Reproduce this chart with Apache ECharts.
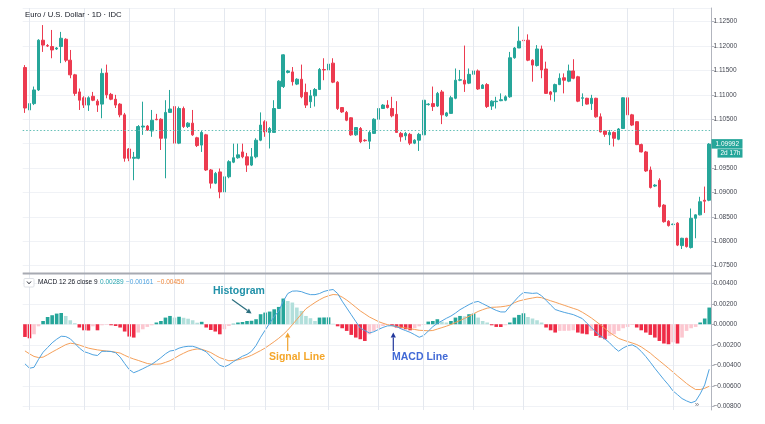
<!DOCTYPE html>
<html>
<head>
<meta charset="utf-8">
<script src="https://cdn.jsdelivr.net/npm/echarts@6/dist/echarts.min.js"></script>
<style>
  html, body { margin: 0; padding: 0; background: #ffffff; }
  #chart { width: 765px; height: 424px; }
</style>
</head>
<body>
<div id="chart"></div>
<script>
// ---- DATA ----
const opens = [1.1156,1.1069,1.1082,1.1110,1.1212,1.1201,1.1199,1.1194,1.1199,1.1214,
1.1171,1.1141,1.1106,1.1094,1.1079,1.1097,1.1087,1.1081,1.1145,1.1101,
1.1091,1.1081,1.1059,1.0989,1.0970,1.0970,1.1034,1.1036,1.1026,1.1050,
1.1050,1.1011,1.1064,1.1076,1.1001,1.1072,1.1035,1.1042,1.1012,1.0997,
1.1018,1.0946,1.0919,1.0942,1.0901,1.0932,1.0962,1.0971,1.0983,1.0973,
1.0956,1.0973,1.1007,1.1045,1.1023,1.1023,1.1072,1.1117,1.1146,1.1147,
1.1122,1.1132,1.1105,1.1086,1.1098,1.1111,1.1152,1.1151,1.1165,1.1126,
1.1074,1.1064,1.1053,1.1018,1.1031,1.1007,1.1005,1.1021,1.1050,1.1072,
1.1079,1.1072,1.1060,1.1021,1.1016,1.1019,1.1001,1.1007,1.1018,1.1080,
1.1082,1.1077,1.1106,1.1057,1.1062,1.1093,1.1130,1.1130,1.1124,1.1142,
1.1149,1.1113,1.1121,1.1077,1.1086,1.1088,1.1089,1.1096,1.1176,1.1196,
1.1212,1.1212,1.1171,1.1160,1.1194,1.1153,1.1106,1.1106,1.1121,1.1135,
1.1128,1.1149,1.1137,1.1093,1.1093,1.1082,1.1093,1.1055,1.1026,1.1018,
1.1023,1.1009,1.1031,1.1094,1.1059,1.1045,1.0998,1.0983,1.0946,1.0913,
1.0925,1.0874,1.0841,1.0834,1.0837,1.0791,1.0806,1.0787,1.0847,1.0854,
1.0884,1.0884];
const closes = [1.1073,1.1082,1.1110,1.1212,1.1202,1.1200,1.1192,1.1196,1.1216,1.1171,
1.1141,1.1103,1.1089,1.1079,1.1094,1.1089,1.1079,1.1144,1.1100,1.1091,
1.1079,1.1059,1.0970,1.0970,1.0972,1.1035,1.1036,1.1028,1.1048,1.1049,
1.1011,1.1064,1.1071,1.1001,1.1072,1.1035,1.1042,1.1018,1.0996,1.1023,
1.0946,1.0919,1.0939,1.0901,1.0932,1.0963,1.0971,1.0977,1.0973,1.0956,
1.0973,1.1007,1.1038,1.1024,1.1031,1.1072,1.1128,1.1182,1.1149,1.1127,
1.1132,1.1096,1.1079,1.1098,1.1111,1.1152,1.1151,1.1163,1.1126,1.1072,
1.1065,1.1048,1.1018,1.1033,1.1004,1.1006,1.1023,1.1050,1.1072,1.1079,
1.1074,1.1057,1.1023,1.1014,1.1021,1.1001,1.1007,1.1019,1.1089,1.1081,
1.1076,1.1103,1.1059,1.1063,1.1094,1.1130,1.1131,1.1122,1.1142,1.1149,
1.1112,1.1120,1.1076,1.1087,1.1087,1.1090,1.1096,1.1176,1.1196,1.1210,
1.1211,1.1171,1.1161,1.1194,1.1151,1.1103,1.1101,1.1121,1.1134,1.1130,
1.1149,1.1134,1.1087,1.1094,1.1081,1.1093,1.1055,1.1024,1.1019,1.1023,
1.1011,1.1030,1.1094,1.1059,1.1038,1.0998,1.0983,1.0944,1.0910,1.0915,
1.0871,1.0840,1.0832,1.0835,1.0792,1.0806,1.0789,1.0847,1.0854,1.0881,
1.0882,1.0999];
const highs = [1.1161,1.1085,1.1117,1.1214,1.1243,1.1204,1.1233,1.1198,1.1229,1.1216,
1.1192,1.1143,1.1113,1.1097,1.1097,1.1106,1.1091,1.1154,1.1162,1.1104,
1.1100,1.1083,1.1063,1.0991,1.0983,1.1038,1.1086,1.1038,1.1069,1.1061,
1.1052,1.1089,1.1110,1.1085,1.1076,1.1076,1.1044,1.1069,1.1014,1.1026,
1.1020,1.0948,1.0942,1.0949,1.0936,1.0966,1.1000,1.1000,1.1000,1.0981,
1.0991,1.1011,1.1064,1.1048,1.1034,1.1089,1.1130,1.1183,1.1151,1.1157,
1.1134,1.1162,1.1123,1.1110,1.1114,1.1155,1.1175,1.1167,1.1175,1.1128,
1.1075,1.1067,1.1054,1.1034,1.1034,1.1009,1.1026,1.1052,1.1091,1.1081,
1.1089,1.1096,1.1087,1.1024,1.1024,1.1022,1.1009,1.1022,1.1091,1.1083,
1.1117,1.1106,1.1110,1.1065,1.1098,1.1154,1.1151,1.1201,1.1154,1.1175,
1.1152,1.1122,1.1124,1.1089,1.1096,1.1103,1.1099,1.1188,1.1198,1.1240,
1.1213,1.1224,1.1173,1.1202,1.1201,1.1168,1.1108,1.1123,1.1144,1.1144,
1.1162,1.1173,1.1139,1.1103,1.1094,1.1100,1.1094,1.1062,1.1027,1.1028,
1.1025,1.1032,1.1095,1.1095,1.1061,1.1046,1.1000,1.0985,1.0953,1.0917,
1.0929,1.0876,1.0843,1.0836,1.0839,1.0807,1.0807,1.0867,1.0855,1.0891,
1.0912,1.1001];
const lows = [1.1063,1.1028,1.1079,1.1108,1.1188,1.1198,1.1175,1.1192,1.1165,1.1167,
1.1134,1.1098,1.1069,1.1073,1.1067,1.1087,1.1065,1.1052,1.1093,1.1089,
1.1073,1.1054,1.0963,1.0964,1.0925,1.0968,1.1018,1.1026,1.1014,1.1048,
1.0987,1.0929,1.1063,1.0994,1.0999,1.1032,1.1032,1.1016,1.0993,1.0983,
1.0944,1.0908,1.0917,1.0888,1.0884,1.0929,1.0960,1.0969,1.0970,1.0942,
1.0954,1.0970,1.1005,1.1014,1.0990,1.1022,1.1071,1.1114,1.1144,1.1119,
1.1120,1.1093,1.1073,1.1073,1.1076,1.1110,1.1130,1.1149,1.1124,1.1069,
1.1063,1.1046,1.1016,1.1016,1.1001,1.1004,1.0989,1.1020,1.1048,1.1071,
1.1072,1.1054,1.1022,1.1004,1.1007,1.0997,1.0999,1.0985,1.1016,1.1078,
1.1067,1.1075,1.1040,1.1055,1.1061,1.1091,1.1128,1.1106,1.1122,1.1141,
1.1110,1.1112,1.1073,1.1069,1.1072,1.1087,1.1087,1.1094,1.1174,1.1196,
1.1210,1.1169,1.1127,1.1158,1.1134,1.1102,1.1089,1.1086,1.1120,1.1103,
1.1126,1.1132,1.1085,1.1077,1.1080,1.1069,1.1053,1.1023,1.1014,1.0997,
1.0994,1.1007,1.1030,1.1057,1.1036,1.0997,1.0982,1.0942,1.0908,1.0911,
1.0869,1.0838,1.0830,1.0833,1.0790,1.0784,1.0787,1.0785,1.0806,1.0853,
1.0858,1.0882];

const histogram = [-0.00124,-0.00137,-0.00098,-0.00020,0.00032,0.00071,0.00088,0.00104,0.00110,0.00081,
0.00039,0.00010,-0.00032,-0.00059,-0.00061,-0.00020,-0.00059,-0.00010,-0.00005,-0.00010,
-0.00017,-0.00032,-0.00071,-0.00120,-0.00130,-0.00081,-0.00049,-0.00026,-0.00010,0.00017,
0.00032,0.00065,0.00081,0.00065,0.00073,0.00063,0.00054,0.00039,0.00015,0.00024,
-0.00032,-0.00056,-0.00071,-0.00098,-0.00049,-0.00017,0.00005,0.00017,0.00022,0.00032,
0.00034,0.00049,0.00098,0.00114,0.00124,0.00146,0.00169,0.00251,0.00227,0.00212,
0.00163,0.00130,0.00081,0.00059,0.00032,0.00065,0.00066,0.00067,0.00005,-0.00020,
-0.00039,-0.00065,-0.00104,-0.00130,-0.00146,-0.00163,-0.00098,-0.00065,-0.00039,-0.00017,
-0.00005,-0.00015,-0.00032,-0.00039,-0.00049,-0.00059,-0.00039,-0.00020,-0.00005,0.00026,
0.00032,0.00049,0.00026,0.00017,0.00032,0.00065,0.00081,0.00078,0.00098,0.00104,
0.00065,0.00032,0.00017,-0.00010,-0.00026,-0.00027,-0.00010,0.00017,0.00065,0.00091,
0.00107,0.00071,0.00056,0.00039,0.00017,-0.00032,-0.00059,-0.00081,-0.00065,-0.00064,
-0.00063,-0.00059,-0.00081,-0.00091,-0.00098,-0.00065,-0.00114,-0.00130,-0.00146,-0.00114,
-0.00098,-0.00065,-0.00039,-0.00026,-0.00007,-0.00032,-0.00059,-0.00081,-0.00104,-0.00130,
-0.00163,-0.00188,-0.00195,-0.00176,-0.00188,-0.00130,-0.00065,-0.00039,-0.00026,0.00017,
0.00056,0.00163];

const macdLine = [-0.00386,-0.00429,-0.00420,-0.00342,-0.00273,-0.00227,-0.00181,-0.00146,-0.00117,-0.00120,
-0.00142,-0.00187,-0.00232,-0.00267,-0.00281,-0.00298,-0.00305,-0.00264,-0.00264,-0.00266,
-0.00278,-0.00320,-0.00383,-0.00442,-0.00473,-0.00455,-0.00434,-0.00412,-0.00390,-0.00359,
-0.00326,-0.00289,-0.00261,-0.00254,-0.00233,-0.00221,-0.00215,-0.00215,-0.00228,-0.00248,
-0.00269,-0.00316,-0.00359,-0.00400,-0.00416,-0.00396,-0.00365,-0.00338,-0.00312,-0.00294,
-0.00264,-0.00207,-0.00127,-0.00058,0.00010,0.00075,0.00129,0.00225,0.00300,0.00323,
0.00325,0.00318,0.00301,0.00289,0.00289,0.00300,0.00320,0.00332,0.00339,0.00300,
0.00225,0.00159,0.00093,0.00027,-0.00038,-0.00062,-0.00085,-0.00073,-0.00051,-0.00031,
-0.00016,-0.00014,-0.00022,-0.00045,-0.00062,-0.00079,-0.00102,-0.00127,-0.00109,-0.00067,
-0.00024,0.00009,0.00033,0.00058,0.00080,0.00109,0.00142,0.00167,0.00192,0.00213,
0.00223,0.00201,0.00179,0.00156,0.00135,0.00120,0.00120,0.00174,0.00224,0.00273,
0.00310,0.00306,0.00301,0.00305,0.00278,0.00233,0.00188,0.00144,0.00129,0.00116,
0.00105,0.00094,0.00075,0.00055,0.00010,-0.00034,-0.00077,-0.00113,-0.00144,-0.00181,
-0.00227,-0.00263,-0.00232,-0.00210,-0.00201,-0.00224,-0.00265,-0.00315,-0.00371,-0.00430,
-0.00485,-0.00540,-0.00591,-0.00650,-0.00687,-0.00725,-0.00748,-0.00766,-0.00750,-0.00680,
-0.00592,-0.00439];

const signalLine = [-0.00260,-0.00289,-0.00314,-0.00325,-0.00321,-0.00297,-0.00271,-0.00247,-0.00223,-0.00199,
-0.00185,-0.00191,-0.00203,-0.00218,-0.00233,-0.00242,-0.00250,-0.00256,-0.00261,-0.00265,
-0.00273,-0.00281,-0.00303,-0.00323,-0.00339,-0.00353,-0.00368,-0.00383,-0.00390,-0.00390,
-0.00387,-0.00372,-0.00356,-0.00332,-0.00305,-0.00283,-0.00262,-0.00249,-0.00241,-0.00244,
-0.00259,-0.00276,-0.00302,-0.00326,-0.00342,-0.00356,-0.00353,-0.00347,-0.00335,-0.00320,
-0.00303,-0.00280,-0.00257,-0.00232,-0.00201,-0.00170,-0.00137,-0.00099,-0.00056,-0.00005,
0.00047,0.00099,0.00151,0.00182,0.00212,0.00239,0.00262,0.00278,0.00290,0.00287,
0.00265,0.00236,0.00202,0.00166,0.00130,0.00101,0.00071,0.00049,0.00026,0.00010,
-0.00004,-0.00015,-0.00021,-0.00029,-0.00036,-0.00044,-0.00051,-0.00059,-0.00061,-0.00064,
-0.00061,-0.00047,-0.00033,-0.00019,-0.00002,0.00017,0.00036,0.00057,0.00078,0.00102,
0.00125,0.00142,0.00157,0.00165,0.00167,0.00170,0.00176,0.00185,0.00210,0.00227,
0.00238,0.00248,0.00256,0.00264,0.00259,0.00244,0.00229,0.00215,0.00200,0.00185,
0.00170,0.00155,0.00141,0.00117,0.00090,0.00061,0.00028,-0.00006,-0.00042,-0.00080,
-0.00109,-0.00138,-0.00154,-0.00169,-0.00183,-0.00198,-0.00221,-0.00251,-0.00282,-0.00320,
-0.00356,-0.00392,-0.00429,-0.00466,-0.00505,-0.00541,-0.00578,-0.00610,-0.00637,-0.00637,
-0.00625,-0.00605];

// session numbers (1-based) that carry a vertical time grid line
const timeGridSessions = [2,14,24,34,45,54,68,79,89,100,111,134,144];
const priceTicks = { min: 1.075, max: 1.1278, step: 0.005 };
const macdTicks = { min: -0.010, max: 0.005, step: 0.002, lowestLabel: -0.008 };
const dottedLevel = 1.1028;
const lastPriceText = '1.09992';
const countdownText = '2d 17h';
const titleText = 'Euro / U.S. Dollar · 1D · IDC';
const legendName = 'MACD 12 26 close 9';
const legendValues = ['0.00289', '\u22120.00161', '\u22120.00450'];

// ---- CHART ----
const N = opens.length;
const categories = opens.map((_, i) => 'S' + (i + 1));
const candleData = opens.map((o, i) => [o, closes[i], lows[i], highs[i]]);

const UP = '#26a69a', DOWN = '#ec3b50';
const H_UP = '#26a69a', H_UP_L = '#b2dfdb', H_DN = '#ef2b46', H_DN_L = '#fcc7d0';
const MACD_C = '#4fa3e0', SIG_C = '#f5a05a';

const GL = 22.7, GW = 688.8;
const chart = echarts.init(document.getElementById('chart'), null, { renderer: 'canvas' });

const fmtMinus = s => s.replace('-', '\u2212');

const option = {
  animation: false,
  backgroundColor: '#ffffff',
  textStyle: { fontFamily: 'Liberation Sans, Arial, sans-serif' },
  grid: [
    { left: GL, width: GW, top: 8, height: 257.6, outerBoundsMode: 'none', containLabel: false },
    { left: GL, width: GW, top: 273, height: 153.75, outerBoundsMode: 'none', containLabel: false },
    { left: GL, width: GW, top: 8, height: 402, outerBoundsMode: 'none', containLabel: false }
  ],
  xAxis: [0, 1, 2].map(g => ({
    type: 'category', gridIndex: g, data: categories, boundaryGap: true,
    axisLine: { show: false }, axisTick: { show: false }, axisLabel: { show: false }, splitLine: { show: false }
  })),
  yAxis: [
    {
      type: 'value', gridIndex: 0, position: 'right', scale: true,
      min: priceTicks.min, max: priceTicks.max, interval: priceTicks.step,
      axisLine: { show: false },
      axisTick: { show: true, length: 3, lineStyle: { color: '#b2b5be' } },
      axisLabel: {
        show: true, fontSize: 6.5, color: '#434651', margin: 2, showMaxLabel: false,
        formatter: v => {
          const k = Math.round((v - priceTicks.min) / priceTicks.step);
          if (Math.abs(priceTicks.min + k * priceTicks.step - v) > 1e-7) return '';
          if (Math.abs(v - 1.1) < 1e-7) return '';
          return v.toFixed(5);
        }
      },
      splitLine: { show: true, lineStyle: { color: '#f0f2f6', width: 1 } }
    },
    {
      type: 'value', gridIndex: 1, position: 'right',
      min: macdTicks.min, max: macdTicks.max, interval: macdTicks.step,
      axisLine: { show: false },
      axisTick: { show: true, length: 3, lineStyle: { color: '#b2b5be' } },
      axisLabel: {
        show: true, fontSize: 6.5, color: '#434651', margin: 2, showMaxLabel: false, showMinLabel: false,
        formatter: v => {
          if (v < macdTicks.lowestLabel - 1e-9) return '';
          return Math.abs(v) < 1e-9 ? '0.00000' : fmtMinus(v.toFixed(5));
        }
      },
      splitLine: { show: true, lineStyle: { color: '#f0f2f6', width: 1 } }
    },
    {
      type: 'value', gridIndex: 2, position: 'right', min: 0, max: 1,
      axisLine: { show: true, lineStyle: { color: '#b2b5be', width: 1 } },
      axisTick: { show: false }, axisLabel: { show: false }, splitLine: { show: false }
    }
  ],
  series: [
    {
      type: 'line', xAxisIndex: 2, yAxisIndex: 2, data: categories.map(() => null),
      silent: true, z: 0, showSymbol: false,
      markLine: {
        silent: true, symbol: ['none', 'none'], label: { show: false },
        lineStyle: { color: '#e4e8ef', width: 1, type: 'solid' },
        data: timeGridSessions.map(s => ({ xAxis: categories[s - 1] }))
      }
    },
    {
      type: 'candlestick', xAxisIndex: 0, yAxisIndex: 0, data: candleData,
      barWidth: '68%',
      itemStyle: { color: UP, color0: DOWN, borderColor: UP, borderColor0: DOWN, borderWidth: 1 },
      markLine: {
        silent: true, symbol: ['none', 'none'], label: { show: false }, precision: 5,
        lineStyle: { color: '#63bfb6', width: 1, type: [1.5, 2] },
        data: [{ yAxis: dottedLevel }]
      }
    },
    {
      type: 'bar', xAxisIndex: 1, yAxisIndex: 1, barWidth: '80%',
      data: histogram.map((v, i) => {
        const prev = i > 0 ? histogram[i - 1] : v;
        let c;
        if (v >= 0) c = v >= prev ? H_UP : H_UP_L;
        else c = v <= prev ? H_DN : H_DN_L;
        return { value: v, itemStyle: { color: c } };
      })
    },
    {
      type: 'line', xAxisIndex: 1, yAxisIndex: 1, data: macdLine, showSymbol: false,
      lineStyle: { color: MACD_C, width: 1 }, z: 4
    },
    {
      type: 'line', xAxisIndex: 1, yAxisIndex: 1, data: signalLine, showSymbol: false,
      lineStyle: { color: SIG_C, width: 1 }, z: 3
    }
  ]
};
chart.setOption(option);

function arrow(x1, y1, x2, y2, color) {
  const ang = Math.atan2(y2 - y1, x2 - x1);
  const L = 5, W = 2.6;
  const bx = x2 - L * Math.cos(ang), by = y2 - L * Math.sin(ang);
  const px = -Math.sin(ang) * W, py = Math.cos(ang) * W;
  return [
    { type: 'line', shape: { x1, y1, x2: bx, y2: by }, style: { stroke: color, lineWidth: 1.2 }, z: 20 },
    { type: 'polygon', shape: { points: [[x2, y2], [bx + px, by + py], [bx - px, by - py]] }, style: { fill: color }, z: 20 }
  ];
}

const lastY = chart.convertToPixel({ yAxisIndex: 0 }, closes[N - 1]);
const sepY = 273.5;
const F = 'Liberation Sans, Arial';
const gfx = [
  { type: 'text', left: 25, top: 11, style: { text: titleText, fontSize: 7.7, fill: '#131722', fontFamily: F }, z: 20 },
  { type: 'line', shape: { x1: GL, y1: sepY, x2: GL + GW, y2: sepY }, style: { stroke: '#a7aab2', lineWidth: 2 }, z: 20 },
  // legend of the MACD pane
  { type: 'rect', shape: { x: 24, y: 278.5, width: 10, height: 8.5, r: 1 }, style: { fill: '#fff', stroke: '#d6d9e0', lineWidth: 0.8 }, z: 20 },
  { type: 'polyline', shape: { points: [[27, 281.5], [29, 283.8], [31, 281.5]] }, style: { stroke: '#131722', lineWidth: 0.9, fill: null }, z: 21 },
  { type: 'text', x: 38, y: 282.7, style: { text: legendName, fontSize: 6.5, fill: '#131722', verticalAlign: 'middle', fontFamily: F }, z: 20 },
  { type: 'text', x: 100, y: 282.7, style: { text: legendValues[0], fontSize: 6.5, fill: '#26a6b0', verticalAlign: 'middle', fontFamily: F }, z: 20 },
  { type: 'text', x: 126, y: 282.7, style: { text: legendValues[1], fontSize: 6.5, fill: MACD_C, verticalAlign: 'middle', fontFamily: F }, z: 20 },
  { type: 'text', x: 157, y: 282.7, style: { text: legendValues[2], fontSize: 6.5, fill: '#f0873a', verticalAlign: 'middle', fontFamily: F }, z: 20 },
  // last price label and countdown
  { type: 'rect', shape: { x: GL + GW, y: lastY - 5, width: 31, height: 9.5 }, style: { fill: '#26a69a' }, z: 20 },
  { type: 'text', x: GL + GW + 4, y: lastY - 0.2, style: { text: lastPriceText, fontSize: 6.5, fill: '#ffffff', verticalAlign: 'middle', fontFamily: F }, z: 21 },
  { type: 'rect', shape: { x: GL + GW + 6, y: lastY + 5, width: 25, height: 8.5 }, style: { fill: '#26a69a' }, z: 20 },
  { type: 'text', x: GL + GW + 9, y: lastY + 9.3, style: { text: countdownText, fontSize: 6.5, fill: '#ffffff', verticalAlign: 'middle', fontFamily: F }, z: 21 },
  // scroll-to-latest button glyph
  { type: 'text', x: 697, y: 404.5, style: { text: '»', fontSize: 8, fill: '#787b86', align: 'center', verticalAlign: 'middle', fontFamily: F }, z: 21 },
  // annotations
  { type: 'text', x: 213, y: 291.5, style: { text: 'Histogram', fontSize: 10.5, fontWeight: 'bold', fill: '#1f90a8', verticalAlign: 'middle', fontFamily: F }, z: 20 },
  { type: 'text', x: 269, y: 357.5, style: { text: 'Signal Line', fontSize: 10.5, fontWeight: 'bold', fill: '#f4a62a', verticalAlign: 'middle', fontFamily: F }, z: 20 },
  { type: 'text', x: 392, y: 357.5, style: { text: 'MACD Line', fontSize: 10.5, fontWeight: 'bold', fill: '#4169d6', verticalAlign: 'middle', fontFamily: F }, z: 20 }
]
.concat(arrow(232, 299.5, 251.5, 313.5, '#2b6e7e'))
.concat(arrow(287.7, 351, 287.7, 332.5, '#f0a22e'))
.concat(arrow(393.3, 351, 393.3, 332.5, '#23389c'));

chart.setOption({ graphic: { elements: gfx } });
</script>
</body>
</html>
